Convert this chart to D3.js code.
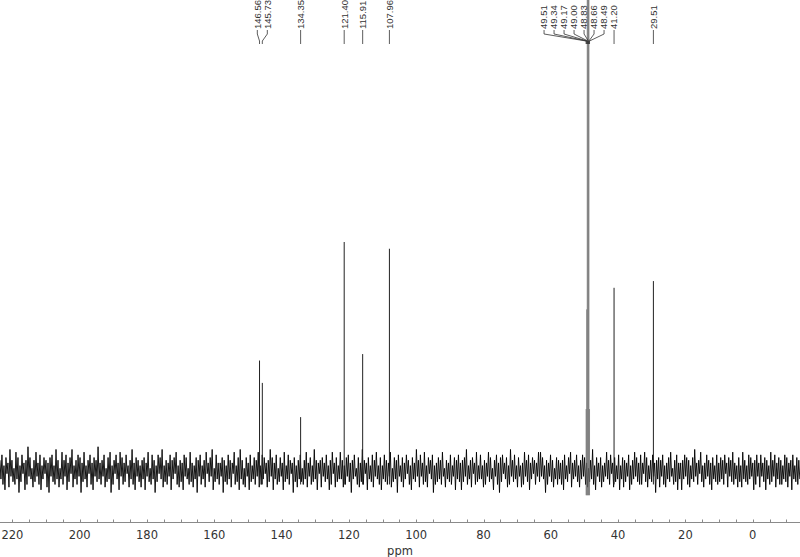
<!DOCTYPE html>
<meta charset="utf-8">
<style>
body { margin: 0; background: #fff; }
.plabel { font: 9.5px "Liberation Sans", sans-serif; fill: #333; }
</style>
<body>
<script src="https://d3js.org/d3.v7.min.js"></script>
<script>
// peak list (ppm, intensity in noise units)
var peakPpm    = [146.56, 145.73, 134.35, 121.40, 115.91, 107.96, 41.20, 29.51];
var peakHeight = [41, 32.7, 20, 85, 43.4, 82.5, 68, 70.5];

// CD3OD septet, runs off the top of the plot
var solventPpm    = [49.51, 49.34, 49.17, 49.00, 48.83, 48.66, 48.49];
var solventHeight = [23, 60, 220, 340, 220, 205, 23];

// picked-peak labels along the top
var labelPpm = [146.56, 145.73, 134.35, 121.40, 115.91, 107.96,
                49.51, 49.34, 49.17, 49.00, 48.83, 48.66, 48.49, 41.20, 29.51];

var tickValues = [220, 200, 180, 160, 140, 120, 100, 80, 60, 40, 20, 0];
var minorTicks = d3.range(220, -15, -5);

// baseline noise, left (223.7 ppm) to right (-14 ppm)
var noise = [
 4,-3,6,-5,2,-7,5,-1,3,-6,8,-2,4,-4,1,-5,7,-3,5,-8,
 2,-4,6,-1,3,-7,4,-5,9,-2,5,-3,1,-6,4,-4,7,-2,3,-5,
 6,-7,2,-3,5,-1,4,-6,3,-8,5,-2,6,-4,2,-5,8,-3,4,-6,
 1,-3,7,-5,4,-2,6,-7,3,-4,5,-1,8,-6,2,-3,4,-5,6,-2,
 5,-8,3,-4,7,-3,2,-6,4,-1,6,-5,3,-7,5,-2,4,-4,9,-3,
 3,-5,4,-2,6,-6,1,-4,5,-3,7,-8,2,-5,4,-1,6,-3,3,-7,
 7,-2,5,-5,3,-4,6,-1,2,-6,4,-3,8,-5,3,-7,5,-2,4,-4,
 2,-6,4,-3,5,-7,3,-2,7,-4,1,-5,6,-3,4,-8,2,-4,6,-1,
 5,-3,8,-6,2,-4,4,-5,3,-2,6,-7,4,-3,5,-1,7,-5,2,-6,
 4,-4,3,-7,6,-2,5,-3,1,-5,7,-4,3,-6,2,-3,5,-8,4,-2,
 6,-5,2,-3,4,-6,7,-1,3,-4,5,-2,8,-7,1,-4,6,-3,3,-5,
 3,-2,5,-8,4,-4,2,-5,6,-3,4,-6,3,-1,7,-5,2,-4,5,-7,
 8,-3,4,-5,1,-6,5,-2,3,-7,6,-4,2,-3,5,-5,4,-2,7,-6,
 2,-5,6,-3,5,-1,3,-6,4,-4,8,-2,5,-7,3,-3,6,-5,1,-4,
 5,-2,3,-7,7,-4,2,-3,6,-5,4,-1,3,-8,5,-4,2,-6,4,-3,
 6,-4,1,-5,4,-3,7,-6,3,-2,5,-5,2,-4,8,-3,4,-7,3,-1,
 4,-6,5,-2,3,-4,6,-3,2,-7,4,-5,7,-1,3,-6,5,-4,2,-3,
 7,-3,4,-6,2,-5,5,-2,6,-4,3,-8,4,-3,6,-2,1,-5,5,-6,
 3,-4,8,-5,4,-1,3,-7,5,-3,2,-4,6,-6,4,-2,7,-3,2,-5,
 5,-7,2,-3,6,-4,4,-5,3,-2,7,-6,1,-4,5,-3,4,-8,6,-2,
 2,-4,5,-6,3,-3,6,-1,4,-5,2,-7,5,-3,3,-4,8,-2,4,-6,
 6,-2,3,-5,7,-4,2,-6,5,-1,4,-3,6,-8,2,-5,3,-4,5,-3,
 4,-5,7,-2,1,-6,4,-3,3,-4,6,-5,2,-2,5,-7,4,-3,6,-4,
 3,-7,4,-4,5,-2,8,-5,2,-3,4,-6,5,-1,3,-5,7,-4,2,-3,
 6,-3,2,-6,4,-5,3,-2,7,-4,5,-3,1,-7,4,-2,6,-5,3,-8,
 5,-4,6,-1,3,-3,5,-6,2,-5,8,-2,4,-4,6,-3,2,-6,5,-2,
 2,-6,3,-5,7,-2,4,-4,6,-7,3,-3,5,-1,4,-5,3,-2,7,-4,
 7,-2,5,-3,2,-8,4,-5,3,-2,6,-4,4,-6,1,-3,5,-5,4,-3,
 3,-5,4,-7,6,-3,2,-4,5,-1,7,-6,3,-3,4,-2,6,-4,2,-6,
 4,-3,6,-2,5,-5,3,-6,1,-4,4,-3,8,-5,2,-7,5,-2,3,-4,
 5,-6,2,-4,3,-2,7,-3,4,-5,6,-1,3,-6,5,-4,2,-3,6,-7,
 2,-3,5,-6,4,-4,3,-2,6,-7,2,-5,4,-3,7,-2,5,-4,3,-5,
 6,-5,3,-1,7,-4,5,-6,2,-3,4,-4,6,-2,3,-8,4,-3,5,-6,
 4,-2,6,-5,2,-6,3,-3,5,-4,7,-2,1,-5,4,-4,6,-7,3,-3,
 3,-7,4,-3,6,-2,5,-5,4,-6,2,-3,5,-4,8,-2,3,-5,4,-1,
 7,-4,2,-6,3,-3,6,-2,4,-5,3,-7,5,-3,2,-4,6,-5,3,-4,
 5,-3,4,-5,6,-1,3,-6,5,-2,4,-4,7,-5,3,-3,2,-6,5,-4,
 2,-6,7,-3,4,-4,2,-5,6,-3,5,-2,3,-7,4,-5,6,-2,3,-6,
 6,-2,3,-4,5,-7,4,-3,2,-5,7,-4,4,-2,6,-6,3,-3,5,-5,
 4,-5,2,-3,6,-4,5,-6,3,-2,4,-7,6,-3,2,-4,5,-5,4,-3
];
var noiseStart = 223.7, noiseEnd = -14;

var width = 800, height = 557;

var x = d3.scaleLinear().domain([220, 0]).range([12.4, 752.7]);
var y = d3.scaleLinear().domain([0, 85]).range([471, 242]);

var svg = d3.select("body").append("svg")
    .attr("width", width)
    .attr("height", height);

svg.append("defs").append("clipPath").attr("id", "clip")
  .append("rect").attr("x", 0).attr("y", 0).attr("width", width).attr("height", 515);

var plot = svg.append("g").attr("clip-path", "url(#clip)");

// noise trace
var step = (noiseStart - noiseEnd) / (noise.length - 1);
var line = d3.line()
    .x(function(d, i) { return x(noiseStart - i * step); })
    .y(function(d) { return y(d); });

plot.append("path")
    .datum(noise)
    .attr("d", line)
    .attr("fill", "none")
    .attr("stroke", "#000")
    .attr("stroke-width", 0.9);

// peaks
plot.selectAll(".peak")
    .data(peakPpm.map(function(p, i) { return {ppm: p, h: peakHeight[i]}; }))
  .enter().append("line")
    .attr("class", "peak")
    .attr("x1", function(d) { return x(d.ppm); })
    .attr("x2", function(d) { return x(d.ppm); })
    .attr("y1", y(-5))
    .attr("y2", function(d) { return y(d.h); })
    .attr("stroke", "#222")
    .attr("stroke-width", 1);

plot.selectAll(".solv")
    .data(solventPpm.map(function(p, i) { return {ppm: p, h: solventHeight[i]}; }))
  .enter().append("line")
    .attr("class", "solv")
    .attr("x1", function(d) { return x(d.ppm); })
    .attr("x2", function(d) { return x(d.ppm); })
    .attr("y1", y(-9))
    .attr("y2", function(d) { return y(d.h); })
    .attr("stroke", "#666")
    .attr("stroke-width", 0.7);

// label placement: right to left with a minimum gap, then nudge each
// packed run back to the right while there is room
var gap = 10;
var labels = labelPpm.map(function(p) { return {ppm: p, xp: x(p)}; })
  .sort(function(a, b) { return b.xp - a.xp; });
var prev = Infinity;
labels.forEach(function(d) {
  d.xl = Math.min(d.xp, prev - gap);
  prev = d.xl;
});
var runs = [], cur = [labels[0]];
for (var i = 1; i < labels.length; i++) {
  if (labels[i - 1].xl - labels[i].xl <= gap + 0.01) cur.push(labels[i]);
  else { runs.push(cur); cur = [labels[i]]; }
}
runs.push(cur);
var rightLimit = Infinity;
runs.forEach(function(r) {
  if (r.length > 1) {
    var w = r[0].xl - r[r.length - 1].xl;
    var shift = Math.max(0, Math.min(rightLimit - gap - r[0].xl, w / 2));
    r.forEach(function(d) { d.xl += shift; });
  }
  rightLimit = r[r.length - 1].xl;
});

var lab = svg.append("g");

lab.selectAll(".leader")
    .data(labels)
  .enter().append("path")
    .attr("class", "leader")
    .attr("d", function(d) {
      return "M" + d.xl + ",30L" + d.xl + ",34L" + d.xp + ",41L" + d.xp + ",44";
    })
    .attr("fill", "none")
    .attr("stroke", "#333")
    .attr("stroke-width", 0.8);

lab.selectAll(".plabel")
    .data(labels)
  .enter().append("text")
    .attr("class", "plabel")
    .attr("transform", function(d) { return "translate(" + d.xl + ",29) rotate(-90)"; })
    .attr("dy", "0.35em")
    .text(function(d) { return d.ppm.toFixed(2); });

// axis
var axisY = 522.5;
svg.append("line")
    .attr("x1", 0).attr("x2", width)
    .attr("y1", axisY).attr("y2", axisY)
    .attr("stroke", "#8a8a8a");

svg.selectAll(".minor")
    .data(minorTicks)
  .enter().append("line")
    .attr("class", "minor")
    .attr("x1", function(d) { return Math.round(x(d)) + 0.5; })
    .attr("x2", function(d) { return Math.round(x(d)) + 0.5; })
    .attr("y1", axisY - 3)
    .attr("y2", axisY)
    .attr("stroke", "#8a8a8a");

svg.selectAll(".tlabel")
    .data(tickValues)
  .enter().append("text")
    .attr("class", "tlabel")
    .attr("x", function(d) { return x(d); })
    .attr("y", 539)
    .attr("text-anchor", "middle")
    .style("font", "11.5px 'DejaVu Sans', sans-serif")
    .style("fill", "#333")
    .text(function(d) { return d; });

svg.append("text")
    .attr("x", 400)
    .attr("y", 555)
    .attr("text-anchor", "middle")
    .style("font", "11.5px 'DejaVu Sans', sans-serif")
    .style("fill", "#333")
    .text("ppm");
</script>
